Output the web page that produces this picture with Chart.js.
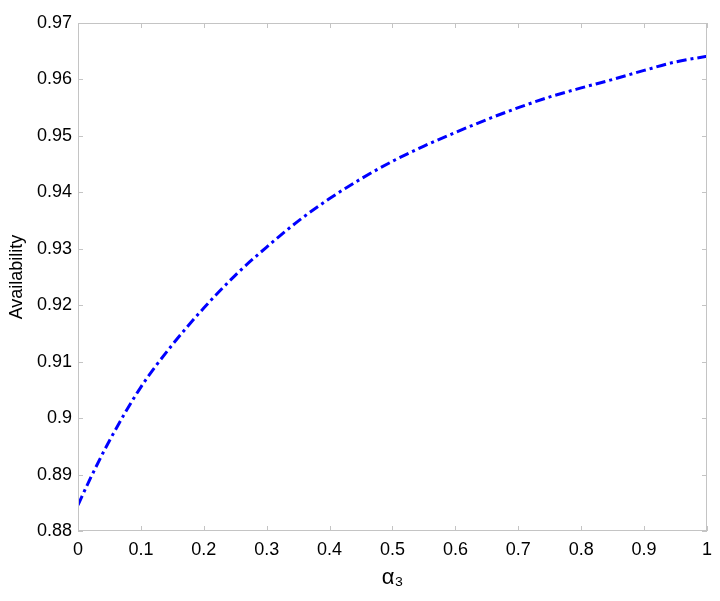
<!DOCTYPE html>
<html>
<head>
<meta charset="utf-8">
<script src="https://cdn.jsdelivr.net/npm/chart.js@4.4.0/dist/chart.umd.min.js"></script>
<style>
  html, body { margin: 0; padding: 0; background: #ffffff; }
  #wrap { width: 720px; height: 601px; }
</style>
</head>
<body>
<div id="wrap"><canvas id="availChart" width="720" height="601"></canvas></div>
<script>
// values
const alpha3 = [0, 0.02, 0.05, 0.1, 0.15, 0.2, 0.25, 0.3, 0.35, 0.4, 0.45, 0.5,
                0.55, 0.6, 0.65, 0.7, 0.75, 0.8, 0.85, 0.9, 0.95, 1.0];
const availability = [0.8846, 0.8894, 0.8960, 0.9055, 0.9130, 0.9195, 0.9253, 0.9303,
                      0.9349, 0.9389, 0.9424, 0.9455, 0.9482, 0.9506, 0.9529, 0.9550,
                      0.9569, 0.9585, 0.9600, 0.9616, 0.9631, 0.9641];
const xTicks = [0, 0.1, 0.2, 0.3, 0.4, 0.5, 0.6, 0.7, 0.8, 0.9, 1];
const yTicks = [0.88, 0.89, 0.9, 0.91, 0.92, 0.93, 0.94, 0.95, 0.96, 0.97];

const frameColor = '#c4c4c4';
const fontFamily = '"Liberation Sans", Arial, sans-serif';

// box around the plot and short inward ticks on all four sides
const framePlugin = {
    id: 'frame',
    afterDraw(chart) {
        const ctx = chart.ctx;
        const a = chart.chartArea;
        const xs = chart.scales.x, ys = chart.scales.y;
        const len = 5;
        ctx.save();
        ctx.strokeStyle = frameColor;
        ctx.lineWidth = 1;
        ctx.strokeRect(a.left + 0.5, a.top + 0.5, a.right - a.left - 1, a.bottom - a.top - 1);
        ctx.beginPath();
        xTicks.forEach(v => {
            const px = Math.round(xs.getPixelForValue(v)) + 0.5;
            ctx.moveTo(px, a.bottom); ctx.lineTo(px, a.bottom - len);
            ctx.moveTo(px, a.top); ctx.lineTo(px, a.top + len);
        });
        yTicks.forEach(v => {
            const py = Math.round(ys.getPixelForValue(v)) + 0.5;
            ctx.moveTo(a.left, py); ctx.lineTo(a.left + len, py);
            ctx.moveTo(a.right, py); ctx.lineTo(a.right - len, py);
        });
        ctx.stroke();
        ctx.restore();
    }
};

const points = alpha3.map((x, i) => ({ x: x, y: availability[i] }));

new Chart(document.getElementById('availChart'), {
    type: 'line',
    data: {
        datasets: [{
            label: 'Availability',
            data: points,
            borderColor: '#0000ff',
            borderWidth: 3,
            borderDash: [10, 4, 3, 4],
            pointRadius: 0,
            fill: false,
            cubicInterpolationMode: 'monotone'
        }]
    },
    options: {
        responsive: false,
        animation: false,
        layout: { padding: { top: 23, right: 10, left: 0, bottom: 0 } },
        plugins: {
            legend: { display: false },
            tooltip: { enabled: false }
        },
        scales: {
            x: {
                type: 'linear',
                min: 0,
                max: 1,
                afterBuildTicks: scale => { scale.ticks = xTicks.map(v => ({ value: v })); },
                afterFit: scale => { scale.height = 70; },
                grid: { display: false, drawTicks: false },
                border: { display: false },
                ticks: {
                    color: '#000000',
                    padding: 8,
                    maxRotation: 0,
                    font: { family: fontFamily, size: 18 },
                    callback: v => String(Number(v.toFixed(2)))
                },
                title: {
                    display: true,
                    text: 'α₃',
                    color: '#000000',
                    padding: { top: 4, bottom: 10 },
                    font: { family: fontFamily, size: 22 }
                }
            },
            y: {
                min: 0.88,
                max: 0.97,
                afterBuildTicks: scale => { scale.ticks = yTicks.map(v => ({ value: v })); },
                afterFit: scale => { scale.width = 78; },
                grid: { display: false, drawTicks: false },
                border: { display: false },
                ticks: {
                    color: '#000000',
                    padding: 6,
                    font: { family: fontFamily, size: 18 },
                    callback: v => String(Number(v.toFixed(2)))
                },
                title: {
                    display: true,
                    text: 'Availability',
                    color: '#000000',
                    padding: { top: 6, bottom: 0 },
                    font: { family: fontFamily, size: 18 }
                }
            }
        }
    },
    plugins: [framePlugin]
});
</script>
</body>
</html>
